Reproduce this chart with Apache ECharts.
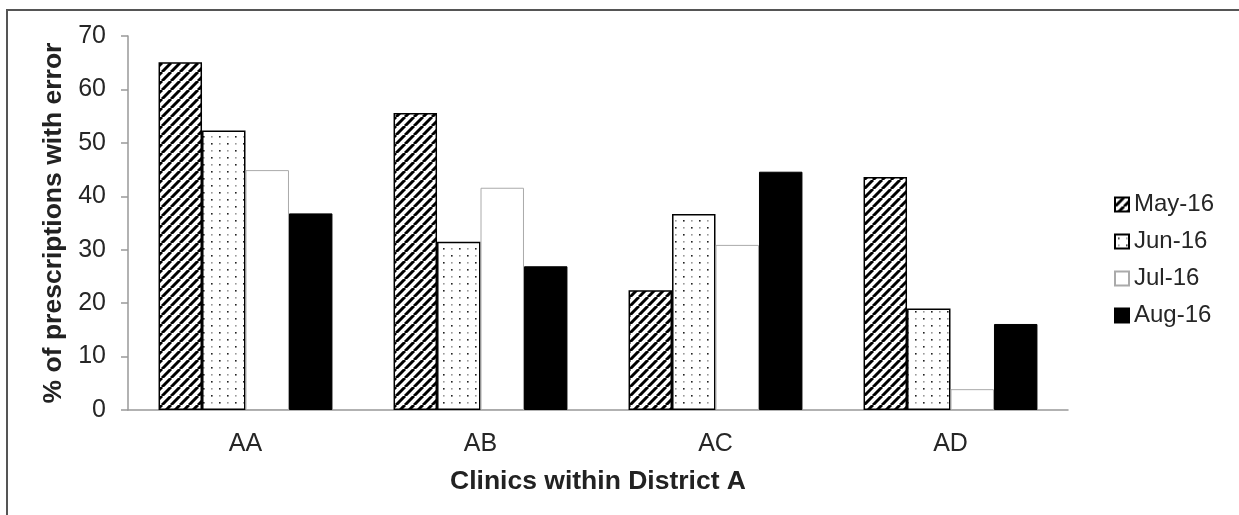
<!DOCTYPE html>
<html>
<head>
<meta charset="utf-8">
<script src="https://cdn.jsdelivr.net/npm/echarts@6/dist/echarts.min.js"></script>
<style>
html,body{margin:0;padding:0;background:#fff;}
#chart{width:1239px;height:515px;}
</style>
</head>
<body>
<div id="chart"></div>
<script>
const categories = ['AA', 'AB', 'AC', 'AD'];
const seriesNames = ['May-16', 'Jun-16', 'Jul-16', 'Aug-16'];
const may16 = [65.1, 55.6, 22.4, 43.6];
const jun16 = [52.3, 31.5, 36.7, 19.0];
const jul16 = [44.9, 41.6, 30.9, 3.9];
const aug16 = [36.8, 26.9, 44.6, 16.1];
const yTicks = [0, 10, 20, 30, 40, 50, 60, 70];

function hatchPattern() {
  const s = 9;
  const c = document.createElement('canvas');
  c.width = s; c.height = s;
  const g = c.getContext('2d');
  g.fillStyle = '#fff'; g.fillRect(0, 0, s, s);
  g.strokeStyle = '#000'; g.lineWidth = 3;
  for (let k = -1; k <= 1; k++) {
    g.beginPath();
    g.moveTo(k * s, s);
    g.lineTo(k * s + s, 0);
    g.stroke();
  }
  return { image: c, repeat: 'repeat' };
}
function dotPattern() {
  const w = 16, h = 14;
  const c = document.createElement('canvas');
  c.width = w; c.height = h;
  const g = c.getContext('2d');
  g.fillStyle = '#fff'; g.fillRect(0, 0, w, h);
  g.fillStyle = '#222';
  g.fillRect(3, 3, 1.6, 1.6);
  g.fillRect(11, 10, 1.6, 1.6);
  g.fillStyle = '#999';
  g.fillRect(11, 3, 1.6, 1.6);
  g.fillRect(3, 10, 1.6, 1.6);
  return { image: c, repeat: 'repeat' };
}

const chart = echarts.init(document.getElementById('chart'), null, { renderer: 'canvas' });
const font = 'Liberation Sans, Arial, sans-serif';
const datas = [may16, jun16, jul16, aug16];
const styles = [
  { color: hatchPattern(), borderColor: '#000', borderWidth: 1.5 },
  { color: dotPattern(), borderColor: '#000', borderWidth: 1.5 },
  { color: '#fff', borderColor: '#aaa', borderWidth: 1 },
  { color: '#000', borderColor: '#000', borderWidth: 1 }
];

chart.setOption({
  animation: false,
  backgroundColor: '#fff',
  graphic: [{
    type: 'rect',
    shape: { x: 7, y: 10, width: 1240, height: 520 },
    style: { fill: 'none', stroke: '#555', lineWidth: 2 },
    silent: true
  }],
  grid: { left: 128, right: 171, top: 36, bottom: 105, containLabel: false },
  legend: {
    orient: 'vertical',
    left: 1109,
    top: 187,
    itemWidth: 14,
    itemHeight: 14,
    itemGap: 12,
    icon: 'rect',
    textStyle: { fontFamily: font, fontSize: 24, lineHeight: 25, color: '#262626' },
    data: seriesNames
  },
  xAxis: {
    type: 'category',
    data: categories,
    axisLine: { lineStyle: { color: '#999', width: 1.5 } },
    axisTick: { show: false },
    axisLabel: { fontFamily: font, fontSize: 25, color: '#262626', margin: 22 },
    name: 'Clinics within District A',
    nameLocation: 'middle',
    nameGap: 58,
    nameTextStyle: { fontFamily: font, fontSize: 26.5, fontWeight: 'bold', color: '#222' }
  },
  yAxis: {
    type: 'value',
    min: yTicks[0],
    max: yTicks[yTicks.length - 1],
    interval: 10,
    axisLine: { show: true, lineStyle: { color: '#999', width: 1.5 } },
    axisTick: { show: true, length: 7, lineStyle: { color: '#999', width: 1.5 } },
    splitLine: { show: false },
    axisLabel: { fontFamily: font, fontSize: 25, color: '#262626', margin: 22 },
    name: '% of prescriptions with error',
    nameLocation: 'middle',
    nameGap: 58,
    nameTextStyle: { fontFamily: font, fontSize: 26.5, fontWeight: 'bold', color: '#222' }
  },
  series: seriesNames.map((n, i) => ({
    name: n,
    type: 'bar',
    data: datas[i],
    barGap: '0%',
    barCategoryGap: '26%',
    itemStyle: styles[i]
  }))
});
</script>
</body>
</html>
